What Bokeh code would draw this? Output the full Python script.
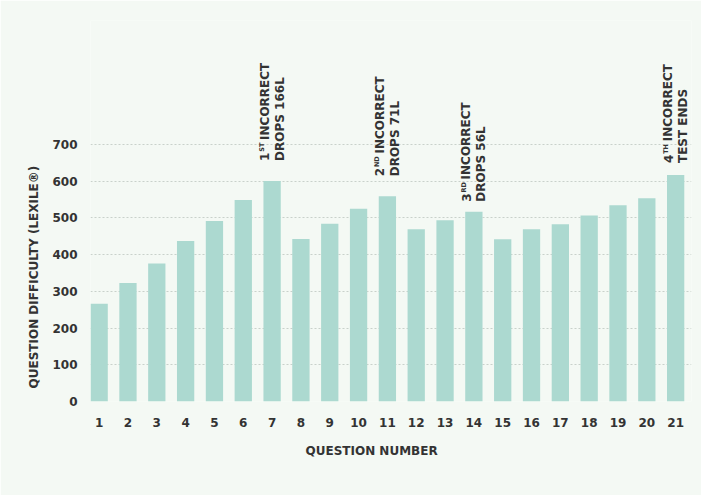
import math
from bokeh.plotting import figure
from bokeh.models import ColumnDataSource, FixedTicker, Range1d, Title
from bokeh.embed import file_html
from bokeh.resources import INLINE
from bokeh.core.properties import value

# ---- data ----
questions = list(range(1, 22))
difficulty = [266, 323, 376, 437, 492, 549, 601, 443, 484, 525, 559,
              469, 494, 517, 442, 469, 483, 507, 535, 554, 617]
y_ticks = [0, 100, 200, 300, 400, 500, 600, 700]

note_questions = [7, 11, 14, 21]
note_numbers = ["1", "2", "3", "4"]
note_suffixes = ["ST", "ND", "RD", "TH"]
note_line1 = ["INCORRECT", "INCORRECT", "INCORRECT", "INCORRECT"]
note_line2 = ["DROPS 166L", "DROPS 71L", "DROPS 56L", "TEST ENDS"]

x_title = "QUESTION NUMBER"
y_title = "QUESTION DIFFICULTY (LEXILE®)"

# ---- styles / layout ----
FONT = "DejaVu Sans"
TXT = "#333333"
BG = "#f4f9f4"
BAR = "#acd9d0"
W, H = 701, 495
BL, BR, BT, BB = 90, 10, 20, 94
X0, X1 = 0.7, 21.55
gaps = [20, 20, 10, 12]          # px between bar top and note
num_w = [8.4, 8.4, 8.4, 8.4]     # px width of the ordinal digit
sup_w = [9.1, 10.9, 10.4, 9.9]   # px width of the superscript

p = figure(width=W, height=H, output_backend="svg", toolbar_location=None,
           x_range=Range1d(X0, X1), y_range=Range1d(0, 1038),
           min_border_left=BL, min_border_right=BR, min_border_top=BT,
           min_border_bottom=BB)
p.background_fill_color = BG
p.border_fill_color = BG
p.outline_line_color = None

src = ColumnDataSource(dict(q=questions, d=difficulty))
p.vbar(x="q", top="d", width=0.6, bottom=0, source=src,
       fill_color=BAR, line_color=None)

# axes
p.xaxis.ticker = FixedTicker(ticks=questions)
p.yaxis.ticker = FixedTicker(ticks=y_ticks)
for ax in (p.xaxis[0], p.yaxis[0]):
    ax.axis_line_color = None
    ax.major_tick_line_color = None
    ax.minor_tick_line_color = None
    ax.major_tick_out = 0
    ax.major_tick_in = 0
    ax.major_label_text_font = FONT
    ax.major_label_text_font_style = "bold"
    ax.major_label_text_font_size = "12px"
    ax.major_label_text_color = TXT
p.xaxis.major_label_standoff = 16
p.yaxis.major_label_standoff = 13

# axis titles
title_style = dict(text_font=FONT, text_font_style="bold", text_color=TXT)
p.add_layout(Title(text=y_title, align="left", offset=13, standoff=17,
                   text_font_size="12px", **title_style), "left")
p.add_layout(Title(text=x_title, align="left", offset=215, standoff=24,
                   text_font_size="12px", **title_style), "below")

p.xgrid.visible = False
p.ygrid.ticker = FixedTicker(ticks=y_ticks)
p.ygrid.grid_line_color = "#c9d1cb"
p.ygrid.grid_line_dash = "2 2"
p.ygrid.grid_line_width = 1

# notes above bars
note_tops = [difficulty[questions.index(q)] for q in note_questions]
num_off = [-g for g in gaps]
sup_off = [-(g + n + 0.8) for g, n in zip(gaps, num_w)]
rest_off = [-(g + n + s + 3.5) for g, n, s in zip(gaps, num_w, sup_w)]

nsrc = ColumnDataSource(dict(x=note_questions, y=note_tops,
                             num=note_numbers, sup=note_suffixes,
                             l1=note_line1, l2=note_line2,
                             num_off=num_off, sup_off=sup_off,
                             rest_off=rest_off, l2_off=num_off))
common = dict(x="x", y="y", source=nsrc, angle=math.pi / 2,
              text_font=value(FONT), text_font_style="bold",
              text_color=TXT, text_align="left", text_baseline="middle")
p.text(text="num", x_offset=-7.5, y_offset="num_off",
       text_font_size="12px", **common)
p.text(text="sup", x_offset=-10, y_offset="sup_off",
       text_font_size="6.5px", **common)
p.text(text="l1", x_offset=-7.5, y_offset="rest_off",
       text_font_size="12px", **common)
p.text(text="l2", x_offset=7.5, y_offset="l2_off",
       text_font_size="12px", **common)

open("out.html", "w").write(file_html(p, INLINE))
